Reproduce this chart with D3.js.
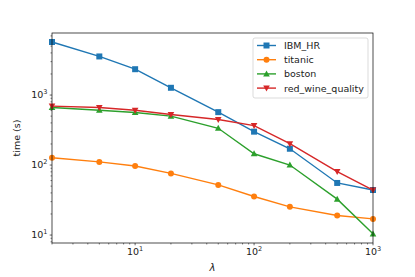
<!DOCTYPE html>
<html>
<head>
<meta charset="utf-8">
<script src="https://cdn.jsdelivr.net/npm/d3@7"></script>
<style>
  body { margin: 0; background: #fff; }
  text { font-family: "DejaVu Sans", sans-serif; }
</style>
</head>
<body>
<div id="chart"></div>
<script>
'use strict'

var lambdas = [2, 5, 10, 20, 50, 100, 200, 500, 1000]
var ibmHR = [5730, 3560, 2340, 1270, 570, 300, 171, 55.5, 44]
var titanic = [127, 111, 97, 76, 52, 35.5, 25.3, 19, 17]
var boston = [665, 608, 563, 500, 335, 145, 100, 32.6, 10.4]
var redWine = [695, 665, 608, 527, 447, 366, 202, 80.5, 44]
var seriesNames = ['IBM_HR', 'titanic', 'boston', 'red_wine_quality']
var xTickValues = [10, 100, 1000]
var yTickValues = [10, 100, 1000]

var width = 415
var height = 277
var margin = { left: 52, right: 42, top: 33, bottom: 34 }
var colors = ['#1f77b4', '#ff7f0e', '#2ca02c', '#d62728']
var symbols = ['square', 'circle', 'triangle', 'down']

var series = seriesNames.map((name, i) => ({
  name: name,
  values: [ibmHR, titanic, boston, redWine][i],
  color: colors[i],
  symbol: symbols[i]
}))

var svg = d3.select('#chart').append('svg')
  .attr('width', width)
  .attr('height', height)

var x = d3.scaleLog()
  .domain([2, 1000])
  .range([margin.left, width - margin.right])

var y = d3.scaleLog()
  .domain([7.7, 7700])
  .range([height - margin.bottom, margin.top])

function sup (sel, base, exp) {
  sel.append('tspan').text(base)
  sel.append('tspan').attr('dy', -4).style('font-size', '6.5px').text(exp)
}

// minor ticks
var xMinor = []
var yMinor = []
;[1, 10, 100].forEach(d => {
  for (var k = 2; k <= 9; k++) {
    if (d * k >= 2 && d * k <= 1000) xMinor.push(d * k)
  }
})
;[1, 10, 100, 1000].forEach(d => {
  for (var k = 2; k <= 9; k++) {
    if (d * k >= 7.7 && d * k <= 7700) yMinor.push(d * k)
  }
})

var xAxis = svg.append('g')
  .attr('transform', 'translate(0,' + (height - margin.bottom) + ')')
xAxis.selectAll('line.minor').data(xMinor).join('line')
  .attr('x1', d => x(d)).attr('x2', d => x(d))
  .attr('y1', 0).attr('y2', 1.5)
  .attr('stroke', '#000').attr('stroke-width', 0.5)
xAxis.selectAll('g.tick').data(xTickValues).join('g')
  .attr('class', 'tick')
  .attr('transform', d => 'translate(' + x(d) + ',0)')
  .each(function (d) {
    var g = d3.select(this)
    g.append('line').attr('y1', 0).attr('y2', 2.3)
      .attr('stroke', '#000').attr('stroke-width', 0.6)
    var t = g.append('text').attr('y', 12).attr('text-anchor', 'middle')
      .style('font-size', '9.5px').attr('fill', '#222')
    sup(t, '10', Math.round(Math.log10(d)))
  })

var yAxis = svg.append('g')
  .attr('transform', 'translate(' + margin.left + ',0)')
yAxis.selectAll('line.minor').data(yMinor).join('line')
  .attr('x1', -1.5).attr('x2', 0)
  .attr('y1', d => y(d)).attr('y2', d => y(d))
  .attr('stroke', '#000').attr('stroke-width', 0.5)
yAxis.selectAll('g.tick').data(yTickValues).join('g')
  .attr('class', 'tick')
  .attr('transform', d => 'translate(0,' + y(d) + ')')
  .each(function (d) {
    var g = d3.select(this)
    g.append('line').attr('x1', -2.3).attr('x2', 0)
      .attr('stroke', '#000').attr('stroke-width', 0.6)
    var t = g.append('text').attr('x', -4.5).attr('y', 3.4).attr('text-anchor', 'end')
      .style('font-size', '9.5px').attr('fill', '#222')
    sup(t, '10', Math.round(Math.log10(d)))
  })

// lines and markers
var line = d3.line()
  .x((d, i) => x(lambdas[i]))
  .y(d => y(d))

function marker (type) {
  var r = 3
  if (type === 'square') return 'M' + -r + ',' + -r + 'h' + 2 * r + 'v' + 2 * r + 'h' + -2 * r + 'Z'
  if (type === 'circle') return d3.symbol(d3.symbolCircle, Math.PI * r * r)()
  if (type === 'triangle') return 'M0,' + (-r * 1.15) + 'L' + (r * 1.1) + ',' + (r * 0.85) + 'L' + (-r * 1.1) + ',' + (r * 0.85) + 'Z'
  return 'M0,' + (r * 1.15) + 'L' + (r * 1.1) + ',' + (-r * 0.85) + 'L' + (-r * 1.1) + ',' + (-r * 0.85) + 'Z'
}

var plot = svg.append('g')
series.forEach(s => {
  plot.append('path')
    .attr('d', line(s.values))
    .attr('fill', 'none')
    .attr('stroke', s.color)
    .attr('stroke-width', 1.4)
  plot.selectAll(null).data(s.values).join('path')
    .attr('transform', (d, i) => 'translate(' + x(lambdas[i]) + ',' + y(d) + ')')
    .attr('d', marker(s.symbol))
    .attr('fill', s.color)
})

// frame
svg.append('rect')
  .attr('x', margin.left).attr('y', margin.top)
  .attr('width', width - margin.left - margin.right)
  .attr('height', height - margin.top - margin.bottom)
  .attr('fill', 'none').attr('stroke', '#000').attr('stroke-width', 0.7)

// axis labels
svg.append('text')
  .attr('x', (margin.left + width - margin.right) / 2)
  .attr('y', 271)
  .attr('text-anchor', 'middle')
  .style('font-size', '10px')
  .style('font-style', 'italic')
  .attr('fill', '#222')
  .text('λ')

svg.append('text')
  .attr('transform', 'translate(20,' + ((margin.top + height - margin.bottom) / 2) + ') rotate(-90)')
  .attr('text-anchor', 'middle')
  .style('font-size', '9.5px')
  .attr('fill', '#222')
  .text('time (s)')

// legend
var legend = svg.append('g').attr('transform', 'translate(253,38)')
legend.append('rect')
  .attr('width', 115).attr('height', 60).attr('rx', 2)
  .attr('fill', '#fff').attr('fill-opacity', 0.8)
  .attr('stroke', '#ccc').attr('stroke-width', 0.7)
series.forEach((s, i) => {
  var g = legend.append('g').attr('transform', 'translate(0,' + (7.5 + i * 14.2) + ')')
  g.append('line').attr('x1', 4).attr('x2', 23)
    .attr('stroke', s.color).attr('stroke-width', 1.4)
  g.append('path').attr('transform', 'translate(13.5,0)')
    .attr('d', marker(s.symbol)).attr('fill', s.color)
  g.append('text').attr('x', 31).attr('y', 3.4)
    .style('font-size', '9.5px').attr('fill', '#222')
    .text(s.name)
})
</script>
</body>
</html>
